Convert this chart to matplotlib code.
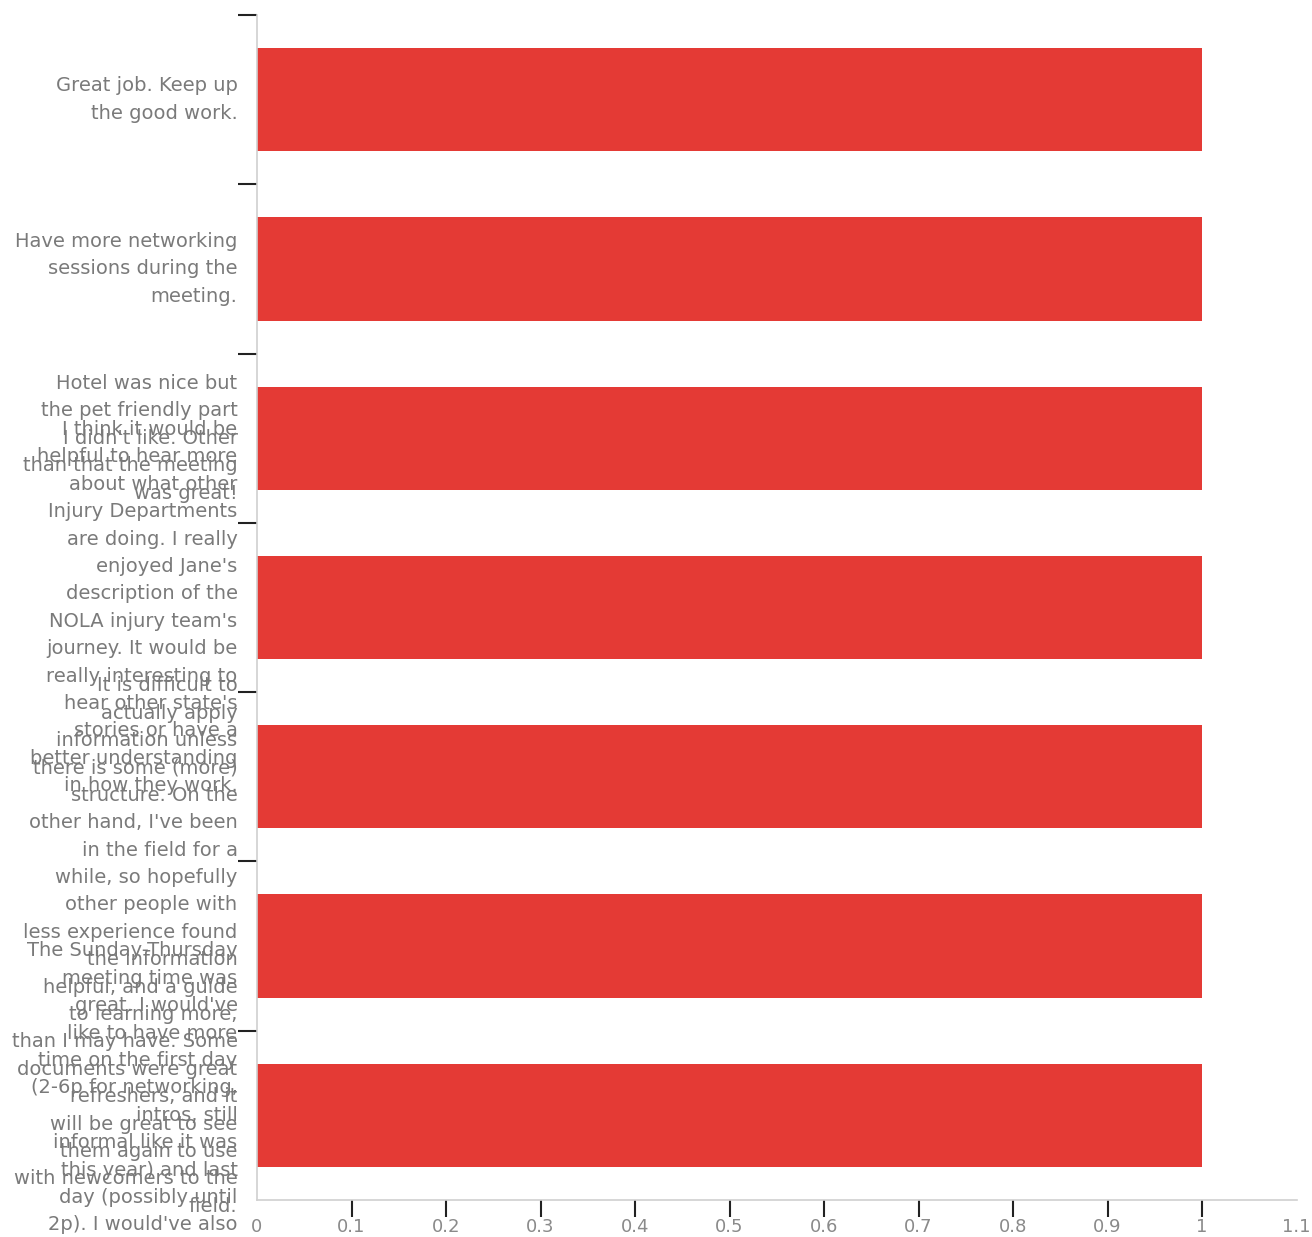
import matplotlib
matplotlib.use('Agg')
import matplotlib.pyplot as plt
import numpy as np

# chart data
labels = [
    "Great job. Keep up\nthe good work.",
    "Have more networking\nsessions during the\nmeeting.",
    "Hotel was nice but\nthe pet friendly part\nI didn't like. Other\nthan that the meeting\nwas great!",
    "I think it would be\nhelpful to hear more\nabout what other\nInjury Departments\nare doing. I really\nenjoyed Jane's\ndescription of the\nNOLA injury team's\njourney. It would be\nreally interesting to\nhear other state's\nstories or have a\nbetter understanding\nin how they work.",
    "",
    "It is difficult to\nactually apply\ninformation unless\nthere is some (more)\nstructure. On the\nother hand, I've been\nin the field for a\nwhile, so hopefully\nother people with\nless experience found\nthe information\nhelpful, and a guide\nto learning more,\nthan I may have. Some\ndocuments were great\nrefreshers, and it\nwill be great to see\nthem again to use\nwith newcomers to the\nfield.",
    "The Sunday-Thursday\nmeeting time was\ngreat. I would've\nlike to have more\ntime on the first day\n(2-6p for networking,\nintros, still\ninformal like it was\nthis year) and last\nday (possibly until\n2p). I would've also\nliked more time to\nnetwork.",
]
values = [1, 1, 1, 1, 1, 1, 1]
xticks = [0, 0.1, 0.2, 0.3, 0.4, 0.5, 0.6, 0.7, 0.8, 0.9, 1, 1.1]
xticklabels = ['0', '0.1', '0.2', '0.3', '0.4', '0.5', '0.6', '0.7', '0.8', '0.9', '1', '1.1']

plt.rcParams['font.family'] = ['DejaVu Sans']
gray = '#7a7a7a'

fig = plt.figure(figsize=(13.12, 12.37), dpi=100)
W, H = 1312, 1237
ax = fig.add_axes([257 / W, 1 - 1200 / H, (1296.5 - 257) / W, (1200 - 15) / H])

pos = np.arange(len(labels))
ax.barh(pos, values, height=0.61, color='#e43a35')
ax.set_xlim(0, 1.1)
ax.set_ylim(len(labels) - 0.5, -0.5)

for s in ['top', 'right']:
    ax.spines[s].set_visible(False)
for s in ['left', 'bottom']:
    ax.spines[s].set_color('#d0d0d0')
    ax.spines[s].set_linewidth(1.2)

ax.set_xticks(xticks)
ax.set_xticklabels(xticklabels)
ax.tick_params(axis='x', length=12, width=1.5, color='#222222', pad=1,
               labelsize=13, labelcolor='#8a8a8a')
ax.xaxis.get_major_ticks()[0].tick1line.set_visible(False)
ax.xaxis.get_major_ticks()[-1].tick1line.set_visible(False)

ax.set_yticks(pos)
ax.set_yticklabels(labels)
ax.tick_params(axis='y', which='major', length=0, pad=14, labelsize=14, labelcolor=gray)
ax.set_yticks(np.arange(-0.5, len(labels) - 1, 1), minor=True)
ax.tick_params(axis='y', which='minor', length=14, width=1.5, color='#222222')
for t in ax.get_yticklabels():
    t.set_va('center')
    t.set_linespacing(1.56)

fig.savefig('out.png', dpi=100)
